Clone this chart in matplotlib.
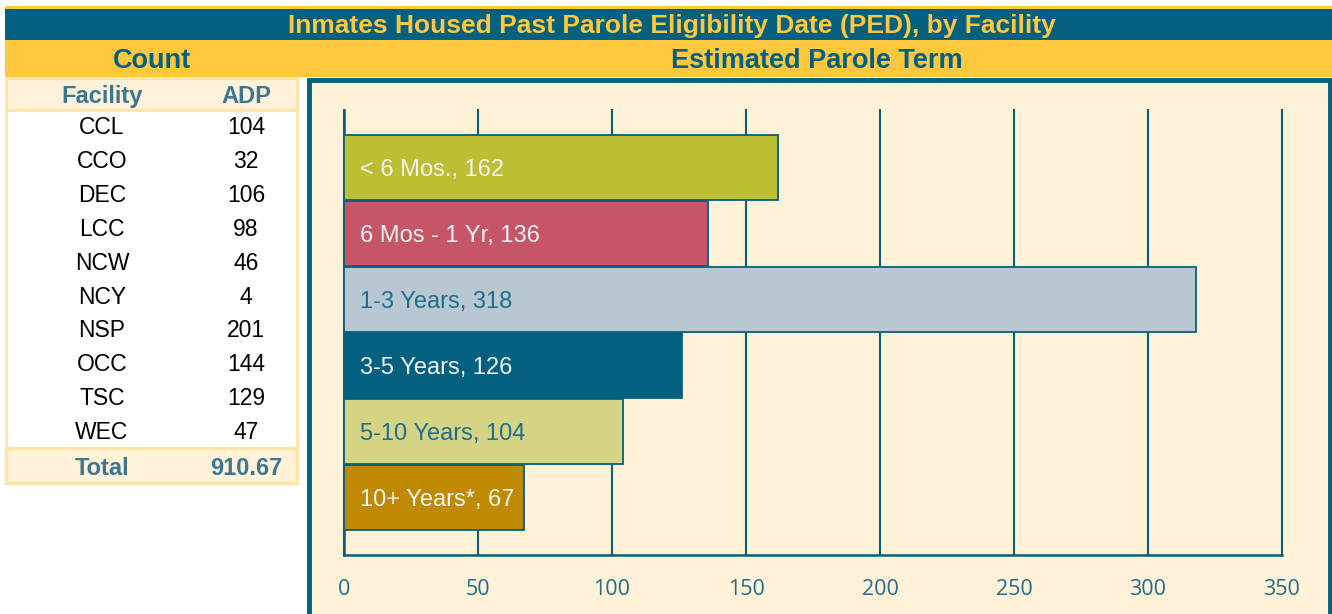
import matplotlib.pyplot as plt
from matplotlib.patches import Rectangle

plt.rcParams['font.family'] = ['Liberation Sans', 'DejaVu Sans']

# data
facilities = ['CCL', 'CCO', 'DEC', 'LCC', 'NCW', 'NCY', 'NSP', 'OCC', 'TSC', 'WEC']
adp = ['104', '32', '106', '98', '46', '4', '201', '144', '129', '47']
total_adp = '910.67'
terms = ['< 6 Mos.', '6 Mos - 1 Yr', '1-3 Years', '3-5 Years', '5-10 Years', '10+ Years*']
term_counts = [162, 136, 318, 126, 104, 67]
x_ticks = [0, 50, 100, 150, 200, 250, 300, 350]

teal = '#03607F'
yellow = '#FEC73E'
cream = '#FFF2D8'
light_border = '#FDE4A8'
head_txt = '#3B7795'
bar_colors = ['#BDBF33', '#C55567', '#B9C7D3', '#036080', '#D5D485', '#C08A00']
label_colors = ['#F4F4F4', '#F4F4F4', '#1F6E8C', '#F4F4F4', '#1F6E8C', '#F4F4F4']

W, H = 1332, 614
fig = plt.figure(figsize=(W / 100, H / 100), dpi=100)
fig.patch.set_facecolor('white')


def rect(x0, y0, x1, y1, fc, ec='none', lw=0, z=1):
    # pixel coords, y from top
    r = Rectangle((x0 / W, 1 - y1 / H), (x1 - x0) / W, (y1 - y0) / H,
                  transform=fig.transFigure, facecolor=fc, edgecolor=ec,
                  linewidth=lw, zorder=z)
    fig.add_artist(r)


def txt(x, y, s, **kw):
    fig.text(x / W, 1 - (y + 2.5) / H, s, va='center', **kw)


# header bands
rect(5, 6, W, 40, yellow)
rect(5, 9, W, 40, teal)
rect(5, 40, W, 77, yellow)
txt(672, 24, 'Inmates Housed Past Parole Eligibility Date (PED), by Facility',
    ha='center', color=yellow, fontsize=19, fontweight='bold')
txt(152, 58, 'Count', ha='center', color=teal, fontsize=19.5, fontweight='bold')
txt(817, 58, 'Estimated Parole Term', ha='center', color=teal, fontsize=19.5, fontweight='bold')

# left table
rect(6, 78, 297, 110, cream, light_border, 2)
rect(6, 110, 297, 448, 'white', light_border, 2)
rect(6, 448, 297, 483, cream, light_border, 2.5)
txt(102, 94, 'Facility', ha='center', color=head_txt, fontsize=17, fontweight='bold')
txt(246, 94, 'ADP', ha='center', color=head_txt, fontsize=17, fontweight='bold')
for i, (f, a) in enumerate(zip(facilities, adp)):
    yy = 125.5 + i * 33.8
    txt(102, yy, f, ha='center', color='black', fontsize=16.5)
    txt(246, yy, a, ha='center', color='black', fontsize=16.5)
txt(102, 466, 'Total', ha='center', color=head_txt, fontsize=17, fontweight='bold')
txt(246, 466, total_adp, ha='center', color=head_txt, fontsize=17, fontweight='bold')

# chart panel
rect(309, 80, 1330, 620, cream, teal, 3.5)

ax = fig.add_axes([344 / W, 1 - 555 / H, (1282 - 344) / W, (555 - 110) / H])
ax.set_facecolor('none')
ax.set_zorder(3)
pos = list(range(len(terms)))
ax.barh(pos, term_counts, height=0.995, color=bar_colors, edgecolor=teal,
        linewidth=1.3, zorder=3)
for p, t, c, lc in zip(pos, terms, term_counts, label_colors):
    ax.text(6, p + 0.04, f'{t}, {c}', va='center', ha='left', color=lc, fontsize=17, zorder=4)

ax.set_xlim(0, 350)
ax.set_ylim(5.87, -0.87)
ax.set_xticks(x_ticks)
ax.set_yticks([])
ax.grid(axis='x', color=teal, linewidth=1.5, zorder=0)
ax.set_axisbelow(True)
for gl in ax.get_xgridlines():
    gl.set_clip_on(False)
for s in ['top', 'right']:
    ax.spines[s].set_visible(False)
for s in ['left', 'bottom']:
    ax.spines[s].set_color(teal)
    ax.spines[s].set_linewidth(1.8)
ax.tick_params(axis='x', length=0, pad=17, labelcolor='#1F6E8C', labelsize=15.5)
for lab in ax.get_xticklabels():
    lab.set_family(['Open Sans', 'DejaVu Sans'])

fig.savefig('out.png', dpi=100)
